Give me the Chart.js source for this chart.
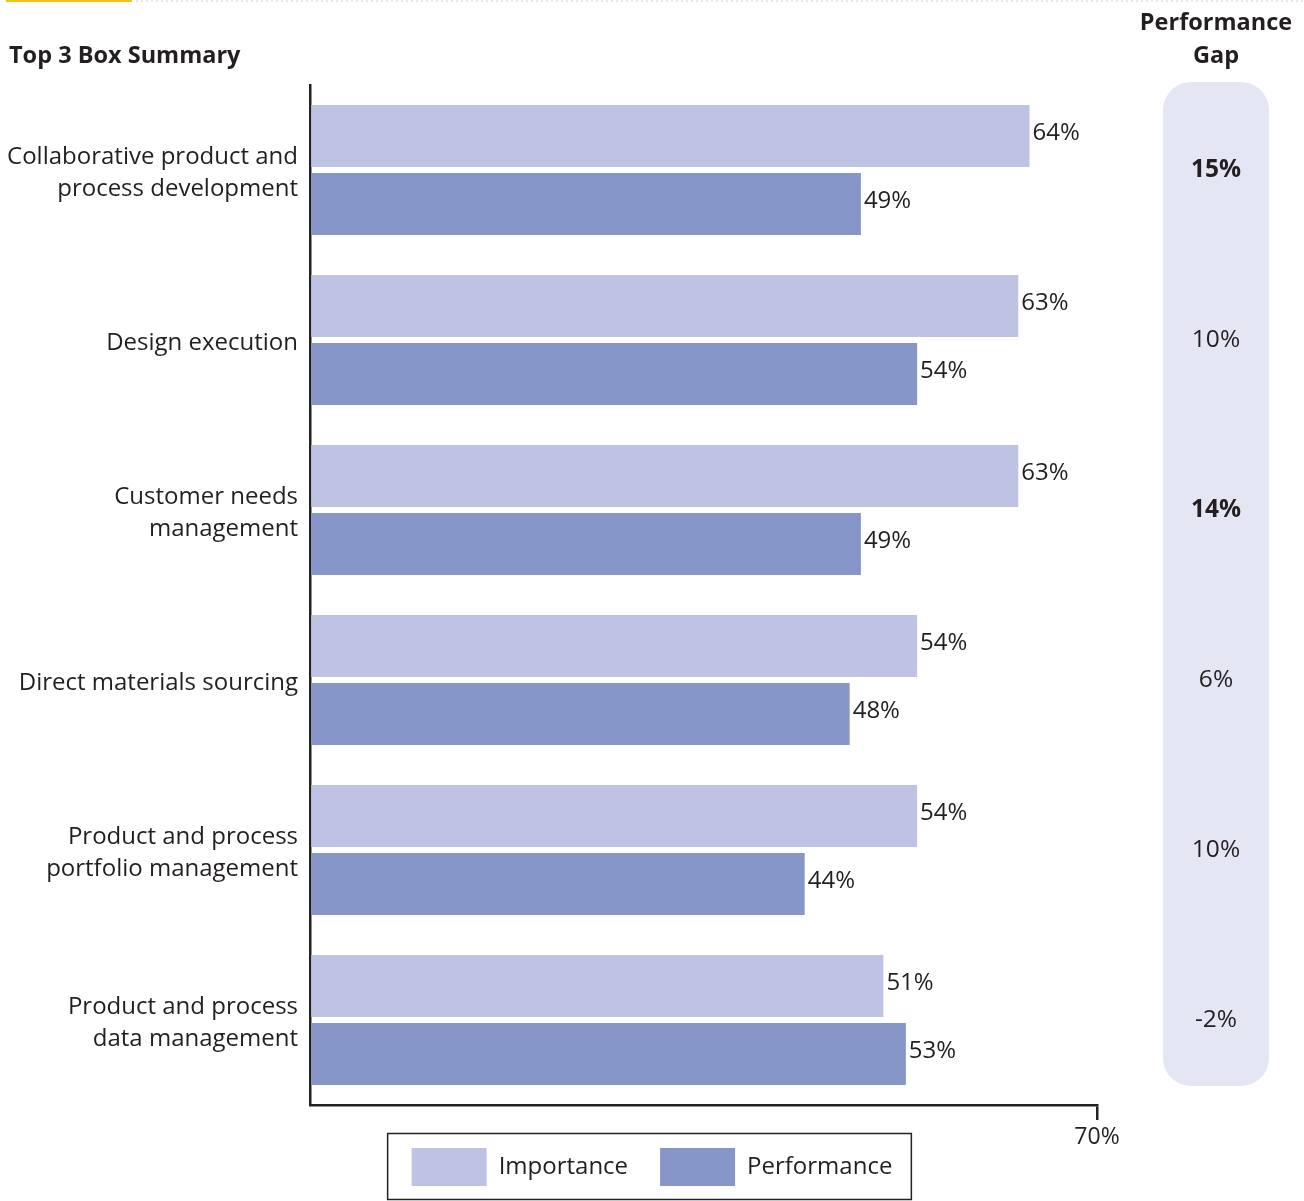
<!DOCTYPE html>
<html>
<head>
<meta charset="utf-8">
<script src="https://cdn.jsdelivr.net/npm/chart.js@4.4.0/dist/chart.umd.min.js"></script>
<style>
  html, body { margin: 0; padding: 0; background: #fff; }
  #wrap { width: 1304px; height: 1201px; }
</style>
</head>
<body>
<div id="wrap"><canvas id="chart" width="1304" height="1201"></canvas></div>
<script>
const categories = [
  ["Collaborative product and", "process development"],
  ["Design execution"],
  ["Customer needs", "management"],
  ["Direct materials sourcing"],
  ["Product and process", "portfolio management"],
  ["Product and process", "data management"],
];
const importance = [64, 63, 63, 54, 54, 51];
const performance = [49, 54, 49, 48, 44, 53];
const gapLabels = ["15%", "10%", "14%", "6%", "10%", "-2%"];
const gapBold = [true, false, true, false, false, false];
const xMax = 70;

const TEXT = "#231f20";
const FONT = "'Open Sans', 'Noto Sans', sans-serif";

// title, top rule, gap panel, value labels, legend frame
const decorPlugin = {
  id: "decor",
  beforeDraw(chart) {
    const c = chart.ctx;
    c.save();
    c.fillStyle = "#f0c31c";
    c.fillRect(6, 0, 126, 2);
    c.strokeStyle = "#cfcfcf";
    c.setLineDash([2, 3]);
    c.lineWidth = 1;
    c.beginPath(); c.moveTo(136, 1); c.lineTo(1304, 1); c.stroke();
    c.setLineDash([]);

    c.fillStyle = TEXT;
    c.font = `bold 23.5px ${FONT}`;
    c.textBaseline = "middle";
    c.textAlign = "left";
    c.fillText("Top 3 Box Summary", 9, 56);
    c.textAlign = "center";
    c.fillText("Performance", 1216, 23);
    c.fillText("Gap", 1216, 56);

    c.fillStyle = "#e4e6f3";
    c.beginPath();
    c.roundRect(1163, 82, 106, 1004, 28);
    c.fill();
    c.restore();
  },
  afterDatasetsDraw(chart) {
    const c = chart.ctx;
    c.save();
    c.fillStyle = TEXT;
    c.textBaseline = "middle";
    c.textAlign = "left";
    c.font = `24px ${FONT}`;
    chart.data.datasets.forEach((ds, di) => {
      chart.getDatasetMeta(di).data.forEach((bar, i) => {
        c.fillText(ds.data[i] + "%", bar.x + 3, bar.y - 3);
      });
    });
    const y = chart.scales.y;
    c.textAlign = "center";
    gapLabels.forEach((g, i) => {
      c.font = (gapBold[i] ? "bold " : "") + `24.5px ${FONT}`;
      c.fillText(g, 1216, y.getPixelForValue(i));
    });
    c.restore();
  },
  afterDraw(chart) {
    const lg = chart.legend;
    if (!lg || !lg.legendHitBoxes.length) return;
    const boxes = lg.legendHitBoxes;
    const last = boxes[boxes.length - 1];
    const l = boxes[0].left - 24;
    const r = last.left + last.width + 19;
    const c = chart.ctx;
    c.save();
    c.strokeStyle = "#222";
    c.lineWidth = 1.5;
    c.strokeRect(l, 1133.5, r - l, 66);
    c.restore();
  },
};

new Chart(document.getElementById("chart"), {
  type: "bar",
  data: {
    labels: categories,
    datasets: [
      { label: "Importance", data: importance, backgroundColor: "#bec3e3" },
      { label: "Performance", data: performance, backgroundColor: "#8696c9" },
    ],
  },
  options: {
    indexAxis: "y",
    responsive: false,
    animation: false,
    categoryPercentage: 0.8,
    barPercentage: 0.91,
    layout: { padding: { left: 0, right: 0, top: 85, bottom: 5 } },
    scales: {
      y: {
        grid: { display: false },
        border: { color: "#222", width: 2.5 },
        ticks: {
          color: TEXT,
          padding: 4,
          labelOffset: 3,
          font: { family: FONT, size: 24, lineHeight: 1.33 },
        },
        afterFit(scale) { scale.width = 310; },
      },
      // empty right column that keeps room for the gap panel
      gapCol: {
        type: "category",
        position: "right",
        grid: { display: false },
        border: { display: false },
        ticks: { display: false },
        afterFit(scale) { scale.width = 207; },
      },
      x: {
        min: 0,
        max: xMax,
        border: { color: "#222", width: 2.5 },
        grid: {
          drawOnChartArea: false,
          tickLength: 15,
          lineWidth: 2.5,
          color: (ctx) => (ctx.tick && ctx.tick.value === xMax ? "#222" : "rgba(0,0,0,0)"),
        },
        ticks: {
          stepSize: xMax,
          color: TEXT,
          padding: 4,
          font: { family: FONT, size: 23 },
          callback: (v) => (v === xMax ? v + "%" : ""),
        },
        afterFit(scale) {
          // squeeze the axis box so the legend sits close, but keep the label visible
          scale.height = 11;
          scale._computeLabelArea = () => undefined;
        },
      },
    },
    plugins: {
      legend: {
        position: "bottom",
        labels: {
          boxWidth: 75,
          boxHeight: 38,
          padding: 32,
          color: TEXT,
          font: { family: FONT, size: 24 },
        },
      },
      tooltip: { enabled: false },
    },
  },
  plugins: [decorPlugin],
});
</script>
</body>
</html>
